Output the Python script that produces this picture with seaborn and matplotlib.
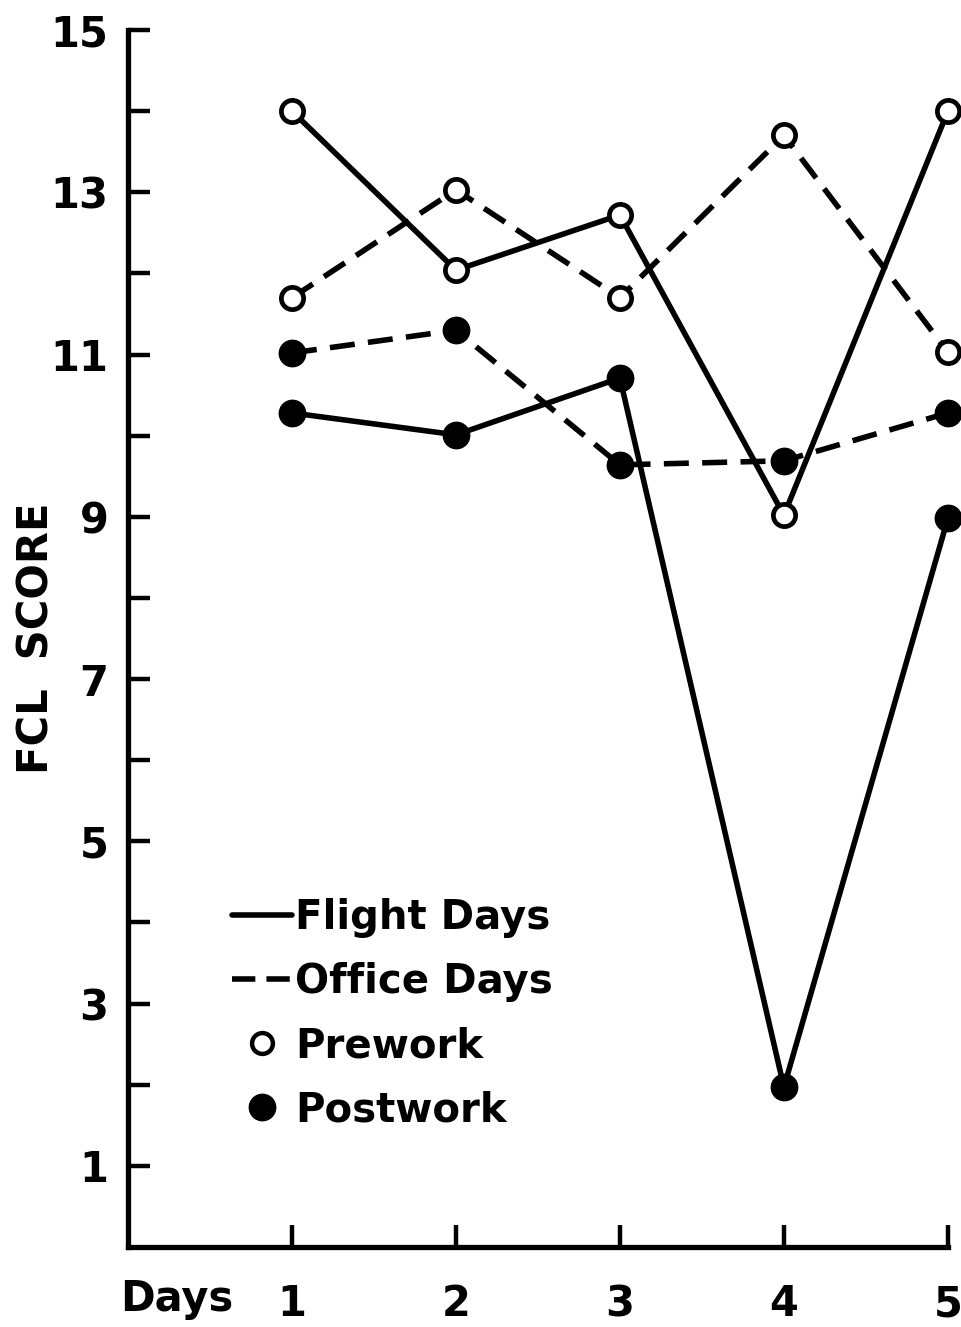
import pandas as pd
import seaborn as sns
import matplotlib.pyplot as plt
from matplotlib.lines import Line2D

days = [1, 2, 3, 4, 5]
flight_pre = [14.0, 12.04, 12.72, 9.02, 14.0]
flight_post = [10.28, 10.01, 10.71, 1.97, 8.98]
office_pre = [11.7, 13.03, 11.7, 13.7, 11.03]
office_post = [11.02, 11.3, 9.64, 9.69, 10.28]

y_major = [1, 3, 5, 7, 9, 11, 13, 15]
y_minor = [2, 4, 6, 8, 10, 12, 14]

series = {
    ("Flight Days", "Prework"): flight_pre,
    ("Flight Days", "Postwork"): flight_post,
    ("Office Days", "Prework"): office_pre,
    ("Office Days", "Postwork"): office_post,
}
rows = []
for (cond, time), vals in series.items():
    for d, v in zip(days, vals):
        rows.append({"day": d, "score": v, "cond": cond, "time": time})
df = pd.DataFrame(rows)

sns.set_theme(style="white")
plt.rcParams['font.family'] = ['DejaVu Sans']
plt.rcParams['font.weight'] = 'bold'
for k in ['text.color', 'axes.labelcolor', 'xtick.color', 'ytick.color']:
    plt.rcParams[k] = 'black'

fig = plt.figure(figsize=(9.61, 13.27), dpi=100)
ax = fig.add_axes([0.1332, 0.0603, 0.8668, 0.9171])

lw = 4.0
for (cond, time), sub in df.groupby(["cond", "time"]):
    ls = "-" if cond == "Flight Days" else (0, (4.5, 2.4))
    if time == "Prework":
        mk = dict(marker="o", markersize=16, markerfacecolor="white",
                  markeredgecolor="black", markeredgewidth=3.4)
    else:
        mk = dict(marker="o", markersize=19, markerfacecolor="black",
                  markeredgecolor="black", markeredgewidth=1)
    sns.lineplot(data=sub, x="day", y="score", ax=ax, color="black",
                 linewidth=lw, linestyle=ls, **mk)

ax.set_xlim(0, 5.08)
ax.set_ylim(0, 15)
ax.set_xticks(days)
ax.set_xticklabels([str(d) for d in days])
ax.set_yticks(y_major)
ax.set_yticklabels([str(v) for v in y_major])
ax.set_yticks(y_minor, minor=True)

for s in ["top", "right"]:
    ax.spines[s].set_visible(False)
for s in ["left", "bottom"]:
    ax.spines[s].set_linewidth(3.8)
    ax.spines[s].set_color("black")
ax.spines["bottom"].set_bounds(0, 5)

ax.tick_params(axis="y", which="both", direction="in", length=16, width=3.2,
               color="black", labelcolor="black", labelsize=30, pad=14, left=True)
ax.tick_params(axis="x", which="major", direction="in", length=16, width=3.2,
               color="black", labelcolor="black", labelsize=30, pad=26, bottom=True)

ax.set_xlabel("Days", fontsize=30, fontweight="bold", color="black")
ax.xaxis.set_label_coords(0.059, -0.043)
ax.xaxis.label.set_verticalalignment("center")
ax.set_ylabel("FCL  SCORE", fontsize=30, fontweight="bold", color="black")
ax.yaxis.set_label_coords(-0.11, 0.5)
ax.yaxis.label.set_verticalalignment("center")

handles = [
    Line2D([], [], color="black", lw=lw, linestyle="-"),
    Line2D([], [], color="black", lw=lw, linestyle=(0, (4.2, 2.0))),
    Line2D([], [], color="black", lw=0, marker="o", markersize=15,
           markerfacecolor="white", markeredgewidth=3.2),
    Line2D([], [], color="black", lw=0, marker="o", markersize=19,
           markerfacecolor="black"),
]
labels = ["Flight Days", "Office Days", "Prework", "Postwork"]
leg = ax.legend(handles, labels, loc="upper left", bbox_to_anchor=(0.105, 0.3),
                frameon=False, fontsize=29, handlelength=1.5, handletextpad=0.08,
                labelspacing=0.6, borderaxespad=0)
for t in leg.get_texts():
    t.set_fontweight("bold")
    t.set_color("black")

fig.savefig("out.png", dpi=100)
